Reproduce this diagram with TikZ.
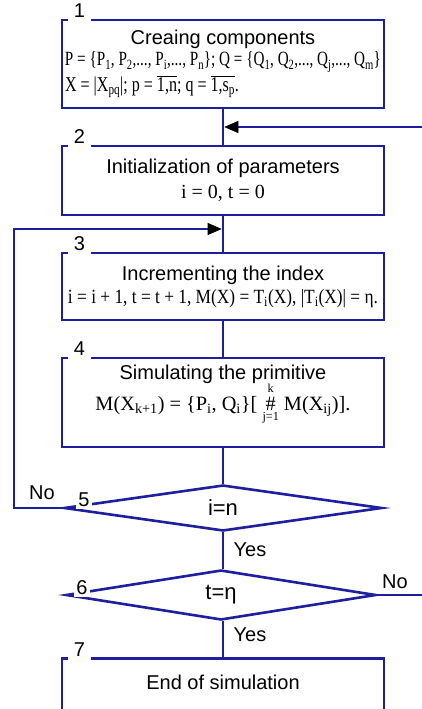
\documentclass[tikz,border=0pt]{standalone}
\usepackage{fontspec}
\setmainfont{Liberation Sans}
\newfontfamily\fml{Liberation Serif}
\usepackage{graphicx}
\usetikzlibrary{arrows.meta,positioning,shapes.geometric,calc}
\definecolor{flowblue}{RGB}{30,30,158}
\newcommand{\ix}[1]{\textsubscript{#1}}

\begin{document}
\begin{tikzpicture}[
  x=1pt, y=-1pt,
  font=\fontsize{20}{22}\selectfont,
  stepbox/.style={rectangle, draw=flowblue, line width=2.6pt, minimum width=322pt,
                  align=center, inner sep=2pt},
  cond/.style={diamond, draw=flowblue, line width=2.6pt, inner sep=0pt, aspect=7},
  numlbl/.style={fill=white, inner xsep=6pt, inner ysep=4pt, anchor=base west},
  flow/.style={draw=flowblue, line width=2.6pt},
  into/.style={flow, -{Triangle[length=14pt, width=12pt, color=black, fill=black, line width=0.6pt]}, shorten >=1.3pt},
]
\useasboundingbox (0,0) rectangle (422,709);

% Blocks of the algorithm
\node[stepbox, minimum height=88pt] (b1) at (223,64)
  {Creaing components\\[-1pt]
   {\fml\resizebox{316pt}{14pt}{P = \{P\ix{1}, P\ix{2},..., P\ix{i},..., P\ix{n}\}; Q = \{Q\ix{1}, Q\ix{2},..., Q\ix{j},..., Q\ix{m}\}}}\\[2pt]
   \makebox[316pt][l]{\fml\resizebox{174pt}{16pt}{X = |X\ix{pq}|; p = $\overline{\mbox{1,n}}$; q = $\overline{\mbox{1,s\ix{p}}}$.}}};
\node[stepbox, minimum height=69pt] (b2) at (223,180.5)
  {Initialization of parameters\\[3pt] {\fml i = 0, t = 0}};
\node[stepbox, minimum height=67pt] (b3) at (223,286.5)
  {Incrementing the index\\[1pt]
   {\fml\resizebox{310pt}{14pt}{i = i + 1, t = t + 1, M(X) = T\ix{i}(X), |T\ix{i}(X)| = η.}}};
\node[stepbox, minimum height=89pt] (b4) at (223,402.5)
  {Simulating the primitive\\[-1pt]
   {\fml\resizebox{255pt}{!}{M(X\ix{k+1}) = \{P\ix{i}, Q\ix{i}\}[ $\mathop{\mbox{\#}}\limits_{\raisebox{-2pt}{\fontsize{12}{12}\selectfont j=1}}^{\raisebox{2pt}{\fontsize{12}{12}\selectfont k}}$ M(X\ix{ij})].}}\rule[-30pt]{0pt}{10pt}};

% Conditions
\node[cond, minimum width=318pt, minimum height=46pt, font=\fontsize{22}{22}\selectfont] (d5) at (223,508) {i=n};
\node[cond, minimum width=310pt, minimum height=50pt, font=\fontsize{22}{22}\selectfont] (d6) at (221,595) {t=η};

% Final block (cut by the frame)
\node[stepbox, minimum height=90pt, anchor=north] (b7) at (223,657) {};
\node (t7) at (223,682) {End of simulation};

% Block numbers
\node[numlbl] (n1) at ([xshift=7pt,yshift=1pt]b1.north west) {1};
\node[numlbl] (n2) at ([xshift=7pt,yshift=1pt]b2.north west) {2};
\node[numlbl] (n3) at ([xshift=7pt,yshift=1pt]b3.north west) {3};
\node[numlbl] (n4) at ([xshift=7pt,yshift=1pt]b4.north west) {4};
\node[numlbl, inner xsep=2pt, inner ysep=2pt, anchor=center] (n5) at (84,500) {5};
\node[numlbl, inner xsep=2pt, inner ysep=2pt, anchor=center] (n6) at (82,588) {6};
\node[numlbl] (n7) at ([xshift=7pt,yshift=1pt]b7.north west) {7};

% Connectors
\draw[flow] (b1) -- (b2);
\draw[flow] (b2) -- (b3);
\draw[flow] (b3) -- (b4);
\draw[flow] (b4) -- (d5);
\draw[flow] (d5.south) -- (d5.south |- d6.north);
\draw[flow] (d6.south -| b7.north) -- (b7.north);

\coordinate (inR) at (422,127);
\draw[into] (inR) -- (inR -| b1.south);
\coordinate (loopL) at (14,229);
\draw[into] (d5.west) -| (loopL) -- (loopL -| b2.south);
\coordinate (outR) at (422,595);
\draw[flow] (d6.east) -- (outR);

% Branch labels
\node (no5) at (42,493) {No};
\node (yes5) at (250,550) {Yes};
\node (no6) at (395,582) {No};
\node (yes6) at (250,635) {Yes};

\end{tikzpicture}
\end{document}
